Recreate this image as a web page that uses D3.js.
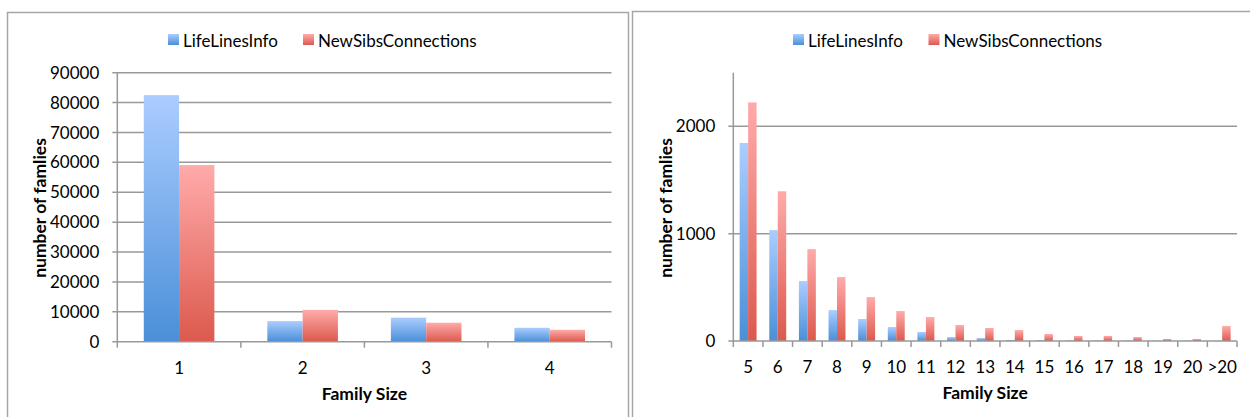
<!DOCTYPE html>
<html>
<head>
<meta charset="utf-8">
<title>Family size distribution</title>
<script src="https://cdn.jsdelivr.net/npm/d3@7/dist/d3.min.js"></script>
<style>
  body { margin: 0; background: #fff; }
  text { font-family: Lato, "Open Sans", sans-serif; fill: #000; }
  .tick-label { font-size: 17px; }
  .axis-title { font-size: 17.5px; font-weight: bold; }
  .legend-label { font-size: 17px; }
</style>
</head>
<body>
<script>
// series names
var seriesNames = ["LifeLinesInfo", "NewSibsConnections"];

// left chart: small families
var leftCategories = ["1", "2", "3", "4"];
var leftLifeLines = [82500, 6900, 8050, 4650];
var leftNewSibs = [59100, 10650, 6350, 3980];
var leftTicks = [0, 10000, 20000, 30000, 40000, 50000, 60000, 70000, 80000, 90000];

// right chart: larger families
var rightCategories = ["5", "6", "7", "8", "9", "10", "11", "12", "13", "14", "15", "16", "17", "18", "19", "20", ">20"];
var rightLifeLines = [1845, 1033, 558, 288, 205, 130, 84, 37, 28, 10, 8, 7, 6, 5, 4, 4, 4];
var rightNewSibs = [2223, 1395, 856, 595, 409, 279, 223, 149, 121, 102, 65, 47, 47, 37, 19, 19, 140];
var rightTicks = [0, 1000, 2000];

var svg = d3.select("body").append("svg")
    .attr("width", 1250)
    .attr("height", 417);

// gradients for bars
var defs = svg.append("defs");
function addGradient(id, top, bottom) {
  var g = defs.append("linearGradient")
      .attr("id", id)
      .attr("x1", 0).attr("y1", 0).attr("x2", 0).attr("y2", 1);
  g.append("stop").attr("offset", "0%").attr("stop-color", top);
  g.append("stop").attr("offset", "100%").attr("stop-color", bottom);
}
addGradient("gradBlue", "#abcdff", "#4a8fd8");
addGradient("gradRed", "#ffabaa", "#dc594d");
var fills = ["url(#gradBlue)", "url(#gradRed)"];

// panel frames
svg.append("rect")
    .attr("x", 7.5).attr("y", 12.5)
    .attr("width", 621).attr("height", 420)
    .attr("fill", "none").attr("stroke", "#a6a6a6").attr("stroke-width", 1.5);
svg.append("rect")
    .attr("x", 632.5).attr("y", 11.5)
    .attr("width", 640).attr("height", 420)
    .attr("fill", "none").attr("stroke", "#a6a6a6").attr("stroke-width", 1.5);

function drawChart(o) {
  var g = svg.append("g");

  var x = d3.scaleBand()
      .domain(o.categories)
      .range([o.left, o.right]);

  // excel style gap width 150%
  var x1 = d3.scaleBand()
      .domain([0, 1])
      .range([0, x.bandwidth()])
      .paddingInner(0)
      .paddingOuter(0.75);

  var y = d3.scaleLinear()
      .domain([0, o.max])
      .range([o.bottom, o.top]);

  // gridlines
  g.selectAll(".grid")
      .data(o.ticks.filter(function(d) { return d > 0; }))
      .enter().append("line")
      .attr("x1", o.left - 5)
      .attr("x2", o.right)
      .attr("y1", function(d) { return y(d); })
      .attr("y2", function(d) { return y(d); })
      .attr("stroke", "#999")
      .attr("stroke-width", 1.5);

  // bars
  var series = [o.s1, o.s2];
  series.forEach(function(vals, si) {
    g.selectAll(".bar" + si)
        .data(vals)
        .enter().append("rect")
        .attr("x", function(d, i) { return x(o.categories[i]) + x1(si); })
        .attr("width", x1.bandwidth())
        .attr("y", function(d) { return y(d); })
        .attr("height", function(d) { return o.bottom - y(d); })
        .attr("fill", fills[si]);
  });

  // y axis line
  g.append("line")
      .attr("x1", o.left).attr("x2", o.left)
      .attr("y1", o.top).attr("y2", o.bottom)
      .attr("stroke", "#999").attr("stroke-width", 1.5);

  // x axis line
  g.append("line")
      .attr("x1", o.left - 5).attr("x2", o.right)
      .attr("y1", o.bottom).attr("y2", o.bottom)
      .attr("stroke", "#999").attr("stroke-width", 1.5);

  // x tick marks at category boundaries
  var bounds = o.categories.map(function(c) { return x(c); }).concat([o.right]);
  g.selectAll(".xtick")
      .data(bounds)
      .enter().append("line")
      .attr("x1", function(d) { return d; })
      .attr("x2", function(d) { return d; })
      .attr("y1", o.bottom)
      .attr("y2", o.bottom + 6)
      .attr("stroke", "#999").attr("stroke-width", 1.5);

  // y tick labels
  g.selectAll(".ylab")
      .data(o.ticks)
      .enter().append("text")
      .attr("class", "tick-label")
      .attr("x", o.left - 18)
      .attr("y", function(d) { return y(d); })
      .attr("dy", "0.36em")
      .attr("text-anchor", "end")
      .text(function(d) { return d; });

  // x tick labels
  g.selectAll(".xlab")
      .data(o.categories)
      .enter().append("text")
      .attr("class", "tick-label")
      .attr("x", function(d) { return x(d) + x.bandwidth() / 2; })
      .attr("y", o.bottom + 32)
      .attr("text-anchor", "middle")
      .text(function(d) { return d; });

  // axis titles
  g.append("text")
      .attr("class", "axis-title")
      .attr("x", (o.left + o.right) / 2)
      .attr("y", o.bottom + 58)
      .attr("text-anchor", "middle")
      .text("Family Size");

  g.append("text")
      .attr("class", "axis-title")
      .attr("transform", "translate(" + o.ylabelX + "," + o.ylabelY + ") rotate(-90)")
      .attr("text-anchor", "middle")
      .attr("dy", "0.35em")
      .text("number of famlies");

  // legend
  var lg = g.append("g").attr("transform", "translate(" + o.legendX + ",34)");
  seriesNames.forEach(function(name, i) {
    var off = i === 0 ? 0 : o.legendGap;
    lg.append("rect")
        .attr("x", off).attr("y", 0)
        .attr("width", 11).attr("height", 11)
        .attr("fill", fills[i]);
    lg.append("text")
        .attr("class", "legend-label")
        .attr("x", off + 15)
        .attr("y", 12.5)
        .text(name);
  });
}

drawChart({
  categories: leftCategories, s1: leftLifeLines, s2: leftNewSibs,
  ticks: leftTicks, max: 90000,
  left: 117.3, right: 611.5, top: 72.7, bottom: 341.7,
  ylabelX: 40, ylabelY: 208,
  legendX: 168, legendGap: 135
});

drawChart({
  categories: rightCategories, s1: rightLifeLines, s2: rightNewSibs,
  ticks: rightTicks, max: 2500,
  left: 733.3, right: 1237, top: 72.7, bottom: 341,
  ylabelX: 665.6, ylabelY: 208,
  legendX: 793, legendGap: 135.5
});
</script>
</body>
</html>
